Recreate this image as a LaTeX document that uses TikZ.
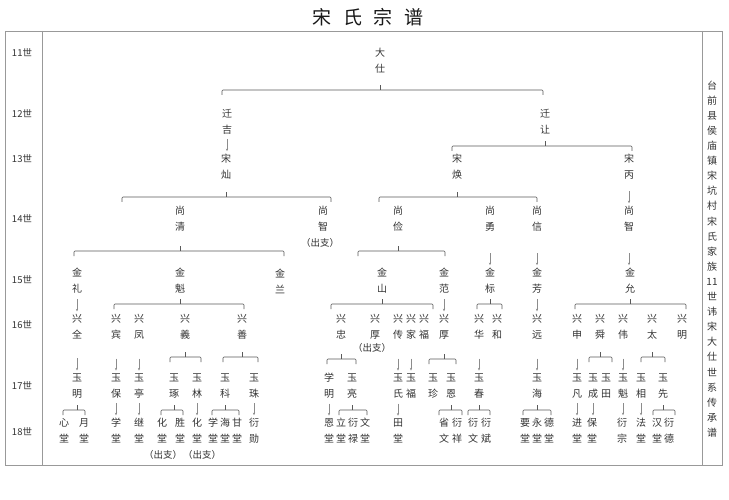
\documentclass[tikz,border=0pt]{standalone}
\usepackage{fontspec}
\setmainfont{Noto Sans CJK SC}
\usetikzlibrary{arrows.meta}
\tikzset{
  nm/.style={align=center, inner sep=0pt, text=black!80, font=\fontsize{10}{16}\selectfont},
  gen/.style={inner sep=0pt, text=black!80, font=\fontsize{9.5}{11}\selectfont},
  cz/.style={inner sep=0pt, text=black!80, font=\fontsize{9.5}{11}\selectfont},
  br/.style={draw=black!65, line width=0.6pt, rounded corners=1pt},
  arr/.style={draw=black!45, line width=0.35pt, -{Stealth[length=2.6pt,width=2.2pt]}},
  frame/.style={draw=black!40, line width=0.8pt},
}
\newcommand\nmnode[4]{\node[nm] (#1) at (#2,#3) {#4};}
% parent, left x, right x, y
\newcommand\brk[4]{%
  \draw[br] (#2,#4) ++(0,5) -- ++(0,-5) -- (#3,#4) -- ++(0,5);
  \draw[br] (#1 |- 0,#4) -- ++(0,-5);}
% short arrow from parent #1 toward child #2, just above the child
\newcommand\arw[2]{\draw[arr] (#1.south |- #2.north) ++(0,-15) -- ++(0,12);}
\begin{document}
\begin{tikzpicture}[x=1pt,y=-1pt]
\useasboundingbox (0,0) rectangle (729,500);
\fill[white] (0,0) rectangle (729,500);
% title
\node[inner sep=0pt, text=black!90, font=\fontsize{19}{21}\selectfont] (title) at (368,17) {宋\hspace{0.6em}氏\hspace{0.6em}宗\hspace{0.6em}谱};
% frame
\draw[frame] (5,31) rectangle (722,465);
\coordinate (d1t) at (42,31); \coordinate (d1b) at (42,465);
\coordinate (d2t) at (702,31); \coordinate (d2b) at (702,465);
\draw[frame] (d1t) -- (d1b);
\draw[frame] (d2t) -- (d2b);
% generation labels
\node[gen] (g11) at (22,53) {11世};
\node[gen] (g12) at (22,114) {12世};
\node[gen] (g13) at (22,159) {13世};
\node[gen] (g14) at (22,219) {14世};
\node[gen] (g15) at (22,280) {15世};
\node[gen] (g16) at (22,325) {16世};
\node[gen] (g17) at (22,386) {17世};
\node[gen] (g18) at (22,432) {18世};
% side text
\node[nm, font=\fontsize{10}{15.1}\selectfont] (side) at (712,259) {台\\前\\县\\侯\\庙\\镇\\宋\\坑\\村\\宋\\氏\\家\\族\\11\\世\\讳\\宋\\大\\仕\\世\\系\\传\\承\\谱};
% 11
\nmnode{dashi}{380}{61}{大\\仕}
% 12
\nmnode{qj}{227}{122}{迁\\吉}
\nmnode{qr}{545}{122}{迁\\让}
% 13
\nmnode{sc}{226}{167}{宋\\灿}
\nmnode{sh}{457}{167}{宋\\焕}
\nmnode{sb}{629}{167}{宋\\丙}
% 14
\nmnode{sq}{180}{219}{尚\\清}
\nmnode{szA}{323}{219}{尚\\智}
\node[cz] (czA) at (320,243) {（出支）};
\nmnode{sjn}{398}{219}{尚\\俭}
\nmnode{sy}{490}{219}{尚\\勇}
\nmnode{sx}{537}{219}{尚\\信}
\nmnode{szB}{629}{219}{尚\\智}
% 15
\nmnode{jl}{77}{281}{金\\礼}
\nmnode{jk}{180}{281}{金\\魁}
\nmnode{jlan}{280}{281}{金\\兰}
\nmnode{js}{382}{281}{金\\山}
\nmnode{jf}{444}{281}{金\\范}
\nmnode{jb}{490}{281}{金\\标}
\nmnode{jfang}{537}{281}{金\\芳}
\nmnode{jy}{630}{281}{金\\允}
% 16
\nmnode{xq}{77}{327}{兴\\全}
\nmnode{xb}{116}{327}{兴\\宾}
\nmnode{xf}{139}{327}{兴\\凤}
\nmnode{xyi}{185}{327}{兴\\義}
\nmnode{xs}{242}{327}{兴\\善}
\nmnode{xz}{341}{327}{兴\\忠}
\nmnode{xhA}{375}{327}{兴\\厚}
\node[cz] (czB) at (372,348) {（出支）};
\nmnode{xc}{398}{327}{兴\\传}
\nmnode{xj}{411}{327}{兴\\家}
\nmnode{xfu}{424}{327}{兴\\福}
\nmnode{xhB}{444}{327}{兴\\厚}
\nmnode{xhua}{479}{327}{兴\\华}
\nmnode{xhe}{497}{327}{兴\\和}
\nmnode{xyuan}{537}{327}{兴\\远}
\nmnode{xshen}{577}{327}{兴\\申}
\nmnode{xshun}{600}{327}{兴\\舜}
\nmnode{xw}{623}{327}{兴\\伟}
\nmnode{xt}{652}{327}{兴\\太}
\nmnode{xm}{682}{327}{兴\\明}
% 17
\nmnode{ym}{77}{386}{玉\\明}
\nmnode{yb}{116}{386}{玉\\保}
\nmnode{yt}{139}{386}{玉\\亭}
\nmnode{yzhuo}{174}{386}{玉\\琢}
\nmnode{ylin}{197}{386}{玉\\林}
\nmnode{yke}{225}{386}{玉\\科}
\nmnode{yzhu}{254}{386}{玉\\珠}
\nmnode{xuem}{329}{386}{学\\明}
\nmnode{yl}{352}{386}{玉\\亮}
\nmnode{ys}{398}{386}{玉\\氏}
\nmnode{yfu}{411}{386}{玉\\福}
\nmnode{yzhen}{433}{386}{玉\\珍}
\nmnode{yen}{451}{386}{玉\\恩}
\nmnode{ychun}{479}{386}{玉\\春}
\nmnode{yhai}{537}{386}{玉\\海}
\nmnode{yfan}{577}{386}{玉\\凡}
\nmnode{ycheng}{593}{386}{玉\\成}
\nmnode{ytian}{606}{386}{玉\\田}
\nmnode{ykui}{623}{386}{玉\\魁}
\nmnode{yxiang}{641}{386}{玉\\相}
\nmnode{yxian}{663}{386}{玉\\先}
% 18
\nmnode{xin}{64}{431}{心\\堂}
\nmnode{yue}{84}{431}{月\\堂}
\nmnode{xuet}{116}{431}{学\\堂}
\nmnode{jit}{139}{431}{继\\堂}
\nmnode{huaA}{162}{431}{化\\堂}
\nmnode{sheng}{180}{431}{胜\\堂}
\nmnode{huaB}{197}{431}{化\\堂}
\nmnode{xueB}{213}{431}{学\\堂}
\nmnode{hai}{225}{431}{海\\堂}
\nmnode{gan}{237}{431}{甘\\堂}
\nmnode{yanxun}{254}{431}{衍\\勋}
\node[cz] (czC) at (163,455) {（出支）};
\node[cz] (czD) at (202,455) {（出支）};
\nmnode{en}{329}{431}{恩\\堂}
\nmnode{li}{341}{431}{立\\堂}
\nmnode{yanlu}{353}{431}{衍\\禄}
\nmnode{wen}{365}{431}{文\\堂}
\nmnode{tian}{398}{431}{田\\堂}
\nmnode{shengw}{444}{431}{省\\文}
\nmnode{yanxiang}{457}{431}{衍\\祥}
\nmnode{yanwen}{473}{431}{衍\\文}
\nmnode{yanbin}{486}{431}{衍\\斌}
\nmnode{yao}{525}{431}{要\\堂}
\nmnode{yong}{537}{431}{永\\堂}
\nmnode{de}{549}{431}{德\\堂}
\nmnode{jin}{577}{431}{进\\堂}
\nmnode{bao}{592}{431}{保\\堂}
\nmnode{yanzong}{622}{431}{衍\\宗}
\nmnode{fa}{641}{431}{法\\堂}
\nmnode{han}{657}{431}{汉\\堂}
\nmnode{yande}{669}{431}{衍\\德}
% brackets
\brk{dashi}{222}{543}{90}
\brk{qr}{452}{632}{146}
\brk{sc}{122}{331}{197}
\brk{sh}{379}{537}{197}
\brk{sq}{74}{284}{251}
\brk{sjn}{358}{445}{251}
\brk{jk}{114}{244}{304}
\brk{js}{331}{433}{304}
\brk{jb}{477}{502}{304}
\brk{jy}{575}{686}{304}
\brk{xyi}{170}{201}{357}
\brk{xs}{223}{258}{357}
\brk{xz}{327}{356}{359}
\brk{xhB}{429}{456}{359}
\brk{xshun}{589}{612}{357}
\brk{xt}{641}{665}{357}
\brk{ym}{63}{85}{410}
\brk{yzhuo}{161}{183}{410}
\brk{yke}{212}{239}{410}
\brk{yl}{339}{367}{410}
\brk{yen}{439}{462}{410}
\brk{ychun}{468}{490}{410}
\brk{yhai}{523}{551}{410}
\brk{yxian}{653}{675}{410}
% arrows
\arw{qj}{sc}
\arw{sb}{szB}
\arw{sy}{jb}
\arw{sx}{jfang}
\arw{szB}{jy}
\arw{jl}{xq}
\arw{jf}{xhB}
\arw{jfang}{xyuan}
\arw{xq}{ym}
\arw{xb}{yb}
\arw{xf}{yt}
\arw{xc}{ys}
\arw{xj}{yfu}
\arw{xhua}{ychun}
\arw{xyuan}{yhai}
\arw{xshen}{yfan}
\arw{xw}{ykui}
\arw{yb}{xuet}
\arw{yt}{jit}
\arw{ylin}{huaB}
\arw{yzhu}{yanxun}
\arw{xuem}{en}
\arw{ys}{tian}
\arw{yfan}{jin}
\arw{ycheng}{bao}
\arw{ykui}{yanzong}
\arw{yxiang}{fa}
\end{tikzpicture}
\end{document}
